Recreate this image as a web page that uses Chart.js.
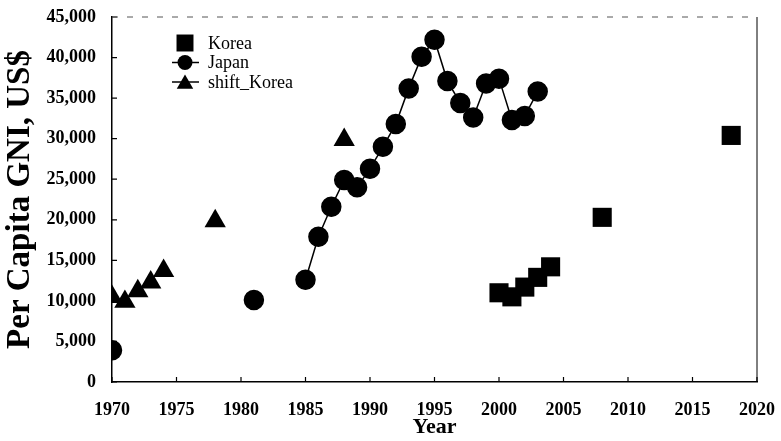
<!DOCTYPE html>
<html>
<head>
<meta charset="utf-8">
<script src="https://cdn.jsdelivr.net/npm/chart.js@4/dist/chart.umd.min.js"></script>
<style>
  html, body { margin: 0; padding: 0; background: #fff; }
  #wrap { width: 781px; height: 441px; }
</style>
</head>
<body>
<div id="wrap"><canvas id="grafico" width="781" height="441"></canvas></div>
<script>
const koreaYears = [2000, 2001, 2002, 2003, 2004, 2008, 2018];
const koreaValues = [11000, 10500, 11700, 12900, 14200, 20300, 30400];

const japanYears = [1970, 1981, 1985, 1986, 1987, 1988, 1989, 1990, 1991, 1992, 1993,
    1994, 1995, 1996, 1997, 1998, 1999, 2000, 2001, 2002, 2003];
const japanValues = [3900, 10100, 12600, 17900, 21600, 24900, 24000, 26300, 29000, 31800, 36200,
    40100, 42200, 37100, 34400, 32600, 36800, 37400, 32300, 32800, 35800];

const shiftYears = [1970, 1971, 1972, 1973, 1974, 1978, 1988];
const shiftValues = [10500, 9900, 11200, 12300, 13700, 19850, 29850];

const xTicks = [1970, 1975, 1980, 1985, 1990, 1995, 2000, 2005, 2010, 2015, 2020];
const yTicks = [0, 5000, 10000, 15000, 20000, 25000, 30000, 35000, 40000, 45000];

const serif = '"Liberation Serif", "Times New Roman", serif';

function puntos(xs, ys) {
    return xs.map((x, i) => ({ x: x, y: ys[i] }));
}

// marcas hacia dentro, borde y leyenda
const extras = {
    id: 'extras',
    afterDraw(chart) {
        const ctx = chart.ctx;
        const a = chart.chartArea;
        const sx = chart.scales.x, sy = chart.scales.y;
        ctx.save();
        ctx.strokeStyle = '#000';
        ctx.lineWidth = 1.2;
        ctx.beginPath();
        xTicks.forEach(t => {
            const px = sx.getPixelForValue(t);
            ctx.moveTo(px, a.bottom);
            ctx.lineTo(px, a.bottom - 5);
        });
        yTicks.forEach(t => {
            const py = sy.getPixelForValue(t);
            ctx.moveTo(a.left, py);
            ctx.lineTo(a.left + 5, py);
        });
        ctx.stroke();

        // borde derecho
        ctx.lineWidth = 1;
        ctx.beginPath();
        ctx.moveTo(a.right, a.top);
        ctx.lineTo(a.right, a.bottom);
        ctx.stroke();

        // borde superior punteado
        ctx.strokeStyle = '#555';
        ctx.setLineDash([6, 9]);
        ctx.beginPath();
        ctx.moveTo(a.left, a.top);
        ctx.lineTo(a.right, a.top);
        ctx.stroke();
        ctx.setLineDash([]);

        // leyenda
        const items = [
            { label: 'Korea', style: 'rect', r: 12, line: false },
            { label: 'Japan', style: 'circle', r: 7.5, line: true },
            { label: 'shift_Korea', style: 'triangle', r: 9.5, line: true }
        ];
        const cx = 185, y0 = 43, dy = 19.5;
        ctx.font = '18px ' + serif;
        ctx.textBaseline = 'middle';
        ctx.fillStyle = '#000';
        items.forEach((it, i) => {
            const cy = y0 + i * dy;
            if (it.line) {
                ctx.strokeStyle = '#000';
                ctx.lineWidth = 1.5;
                ctx.beginPath();
                ctx.moveTo(cx - 13, cy);
                ctx.lineTo(cx + 14, cy);
                ctx.stroke();
            }
            Chart.helpers.drawPoint(ctx, {
                pointStyle: it.style, radius: it.r, rotation: 0, borderWidth: 0
            }, cx, it.style === 'triangle' ? cy + 2 : cy);
            ctx.fillStyle = '#000';
            ctx.fillText(it.label, 208, cy + 1);
        });
        ctx.restore();
    }
};

const ctx = document.getElementById('grafico').getContext('2d');
new Chart(ctx, {
    type: 'scatter',
    data: {
        datasets: [
            {
                label: 'Korea',
                data: puntos(koreaYears, koreaValues),
                pointStyle: 'rect',
                pointRadius: 13.5,
                backgroundColor: '#000',
                borderColor: '#000',
                borderWidth: 0,
                showLine: false
            },
            {
                label: 'Japan',
                data: puntos(japanYears, japanValues),
                pointStyle: 'circle',
                pointRadius: 9.5,
                backgroundColor: '#000',
                borderColor: '#000',
                borderWidth: 1.5,
                showLine: true,
                segment: {
                    borderColor: c => (c.p1.parsed.x - c.p0.parsed.x > 1 ? 'rgba(0,0,0,0)' : '#000')
                }
            },
            {
                label: 'shift_Korea',
                data: puntos(shiftYears, shiftValues),
                pointStyle: 'triangle',
                pointRadius: 12.3,
                backgroundColor: '#000',
                borderColor: '#000',
                borderWidth: 0,
                showLine: false
            }
        ]
    },
    options: {
        responsive: false,
        animation: false,
        layout: { padding: { top: 17, right: 24, left: 0, bottom: 0 } },
        plugins: {
            legend: { display: false },
            tooltip: { enabled: false }
        },
        scales: {
            x: {
                type: 'linear',
                min: 1970,
                max: 2020,
                afterFit: s => { s.height = 59; s.paddingLeft = 0; s.paddingRight = 0; },
                afterBuildTicks: s => { s.ticks = xTicks.map(v => ({ value: v })); },
                grid: { display: true, drawOnChartArea: false, drawTicks: false },
                border: { display: true, color: '#000', width: 1.5 },
                ticks: {
                    color: '#000',
                    padding: 18,
                    font: { family: serif, size: 18, weight: 'bold' },
                    callback: v => String(v)
                },
                title: {
                    display: true,
                    text: 'Year',
                    color: '#000',
                    padding: { top: 0, bottom: 0 },
                    font: { family: serif, size: 22, weight: 'bold' }
                }
            },
            y: {
                min: 0,
                max: 45000,
                afterFit: s => { s.width = 112; s.paddingTop = 0; s.paddingBottom = 0; },
                afterBuildTicks: s => { s.ticks = yTicks.map(v => ({ value: v })); },
                grid: { display: true, drawOnChartArea: false, drawTicks: false },
                border: { display: true, color: '#000', width: 1.5 },
                ticks: {
                    color: '#000',
                    padding: 16,
                    font: { family: serif, size: 18, weight: 'bold' },
                    callback: v => v.toLocaleString('en-US')
                },
                title: {
                    display: true,
                    text: 'Per Capita GNI, US$',
                    color: '#000',
                    padding: { top: 1, bottom: 0 },
                    font: { family: serif, size: 33, weight: 'bold' }
                }
            }
        }
    },
    plugins: [extras]
});
</script>
</body>
</html>
